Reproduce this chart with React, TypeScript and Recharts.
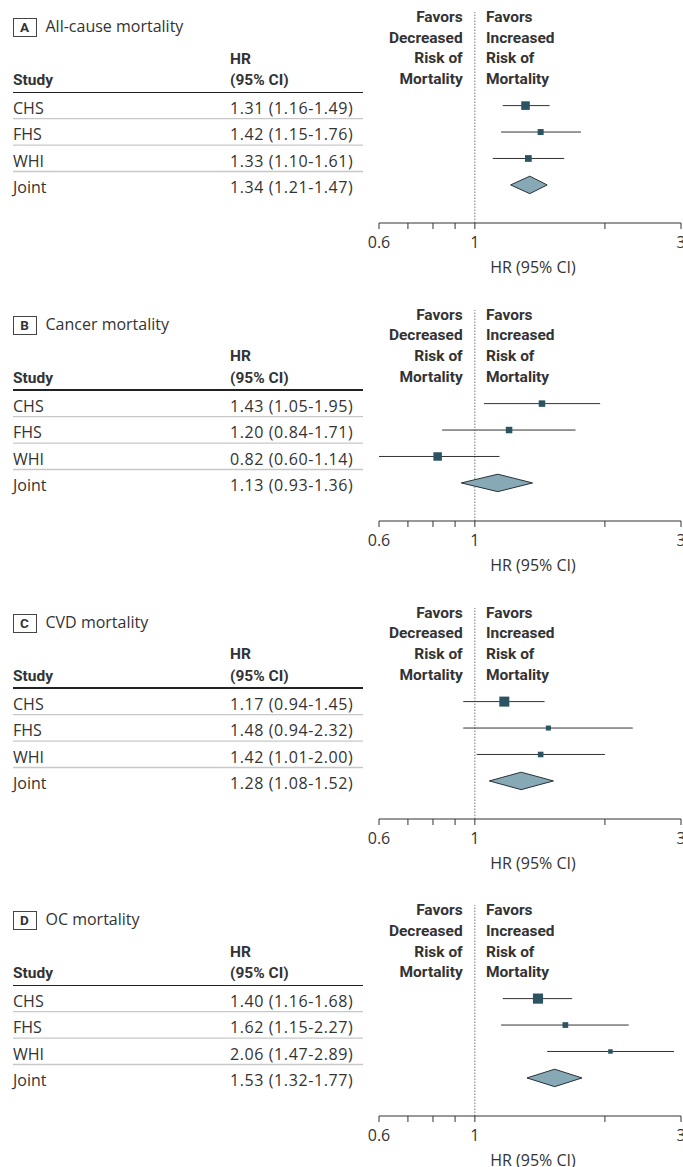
import React from 'react';
import { ComposedChart, Scatter, XAxis, YAxis, ErrorBar, ReferenceLine } from 'recharts';

const studies = ['CHS', 'FHS', 'WHI', 'Joint'];
const panelLetters = ['A', 'B', 'C', 'D'];
const panelTitles = ['All-cause mortality', 'Cancer mortality', 'CVD mortality', 'OC mortality'];

// HR, lower and upper 95% CI for CHS, FHS, WHI, Joint
const allCauseHR = [1.31, 1.42, 1.33, 1.34];
const allCauseLow = [1.16, 1.15, 1.1, 1.21];
const allCauseHigh = [1.49, 1.76, 1.61, 1.47];
const allCauseWeight = [47, 23, 29];

const cancerHR = [1.43, 1.2, 0.82, 1.13];
const cancerLow = [1.05, 0.84, 0.6, 0.93];
const cancerHigh = [1.95, 1.71, 1.14, 1.36];
const cancerWeight = [27, 27, 46];

const cvdHR = [1.17, 1.48, 1.42, 1.28];
const cvdLow = [0.94, 0.94, 1.01, 1.08];
const cvdHigh = [1.45, 2.32, 2.0, 1.52];
const cvdWeight = [64, 16, 20];

const ocHR = [1.4, 1.62, 2.06, 1.53];
const ocLow = [1.16, 1.15, 1.47, 1.32];
const ocHigh = [1.68, 2.27, 2.89, 1.77];
const ocWeight = [66, 21, 13];

const xTicks = [0.6, 0.7, 0.8, 0.9, 1, 2, 3];
const xTickLabels = [0.6, 1, 3];

const panels = [
  { hr: allCauseHR, low: allCauseLow, high: allCauseHigh, weight: allCauseWeight },
  { hr: cancerHR, low: cancerLow, high: cancerHigh, weight: cancerWeight },
  { hr: cvdHR, low: cvdLow, high: cvdHigh, weight: cvdWeight },
  { hr: ocHR, low: ocLow, high: ocHigh, weight: ocWeight },
];

const FONT = '"Open Sans", sans-serif';
const BOLD_FONT = 'Roboto, sans-serif';
const TEXT = '#333';
const SQUARE = '#2c5361';
const DIAMOND = '#86a9b5';
const PANEL_H = 297.75;
const DIAMOND_HALF = 0.33;

const fmt = (v: number) => v.toFixed(2);

const TableRow = (props: any) => {
  const { y, payload, panel } = props;
  const i = payload.value;
  const p = panels[panel];
  return (
    <g>
      <text x={13} y={y + 2.5} dy="0.36em" fontSize={16} fill={TEXT} fontFamily={FONT}>
        {studies[i]}
      </text>
      <text x={230} y={y + 2.5} dy="0.36em" fontSize={16} fill={TEXT} fontFamily={FONT} letterSpacing={0.6}>
        {`${fmt(p.hr[i])} (${fmt(p.low[i])}-${fmt(p.high[i])})`}
      </text>
      {i < 3 && <line x1={13} x2={363} y1={y + 13} y2={y + 13} stroke="#c8c8c8" strokeWidth={1.3} />}
    </g>
  );
};

const Panel = ({ index }: { index: number }) => {
  const p = panels[index];
  const points = p.weight.map((w, i) => ({
    x: p.hr[i],
    y: i,
    err: [p.hr[i] - p.low[i], p.high[i] - p.hr[i]],
    w,
  }));
  const diamond = [
    { x: p.low[3], y: 3 },
    { x: p.hr[3], y: 3 - DIAMOND_HALF },
    { x: p.high[3], y: 3 },
    { x: p.hr[3], y: 3 + DIAMOND_HALF },
  ];
  const bold = { fontFamily: BOLD_FONT, fontWeight: 700, fontSize: 15.5, color: TEXT } as const;
  return (
    <div style={{ position: 'absolute', left: 0, top: index * PANEL_H, width: 700, height: PANEL_H }}>
      <ComposedChart width={700} height={290} margin={{ top: 12, right: 19, bottom: 0, left: 0 }}>
        <XAxis
          dataKey="x"
          type="number"
          scale="log"
          domain={[0.6, 3]}
          allowDataOverflow
          ticks={xTicks}
          tickFormatter={(v: number) => (xTickLabels.includes(v) ? String(v) : '')}
          tickSize={6}
          tickMargin={8}
          height={67}
          stroke="#333"
          tick={{ fontSize: 16, fill: TEXT, fontFamily: FONT }}
          label={{ value: 'HR (95% CI)', position: 'insideBottom', offset: 17, dx: 3, fontSize: 16, fill: TEXT, fontFamily: FONT }}
        />
        <YAxis
          dataKey="y"
          type="number"
          domain={[-3.54, 4.44]}
          allowDataOverflow
          reversed
          ticks={[0, 1, 2, 3]}
          width={379}
          axisLine={false}
          tickLine={false}
          tick={(tp: any) => <TableRow {...tp} panel={index} />}
        />
        <ReferenceLine x={1} stroke="#777" strokeDasharray="1.5 1.5" />
        <Scatter
          data={points}
          isAnimationActive={false}
          fill={SQUARE}
          shape={(sp: any) => {
            const s = 1.25 * Math.sqrt(sp.payload.w);
            return <rect x={sp.cx - s / 2} y={sp.cy - s / 2} width={s} height={s} fill={SQUARE} />;
          }}
        >
          <ErrorBar dataKey="err" direction="x" width={0} stroke="#333" strokeWidth={1} isAnimationActive={false} />
        </Scatter>
        <Scatter
          data={diamond}
          isAnimationActive={false}
          line={{ fill: DIAMOND, stroke: '#263238', strokeWidth: 1 }}
          lineJointType="linearClosed"
          shape={() => <g />}
        />
      </ComposedChart>

      <div style={{ position: 'absolute', left: 12.5, top: 18, width: 22, height: 17, border: '1px solid #444', textAlign: 'center', lineHeight: '17px', fontFamily: BOLD_FONT, fontWeight: 700, fontSize: 13.5, color: TEXT }}>
        {panelLetters[index]}
      </div>
      <div style={{ position: 'absolute', left: 45.5, top: 15, lineHeight: '22px', fontFamily: FONT, fontSize: 16, color: TEXT }}>
        {panelTitles[index]}
      </div>
      <div style={{ ...bold, position: 'absolute', left: 230, top: 48.5, lineHeight: '21.5px' }}>
        HR
        <br />
        (95% CI)
      </div>
      <div style={{ ...bold, position: 'absolute', left: 13, top: 70, lineHeight: '21px' }}>Study</div>
      <div style={{ position: 'absolute', left: 13, top: 91.5, width: 350, height: 1.6, background: '#222' }} />
      <div style={{ ...bold, position: 'absolute', left: 362.7, width: 100, top: 7, lineHeight: '20.7px', textAlign: 'right' }}>
        Favors
        <br />
        Decreased
        <br />
        Risk of
        <br />
        Mortality
      </div>
      <div style={{ ...bold, position: 'absolute', left: 486, top: 7, lineHeight: '20.7px', whiteSpace: 'nowrap' }}>
        Favors
        <br />
        Increased
        <br />
        Risk of
        <br />
        Mortality
      </div>
    </div>
  );
};

export default function App() {
  return (
    <div style={{ position: 'absolute', left: 0, top: 0, width: 683, height: 1167, overflow: 'hidden', background: '#fff' }}>
      {panelLetters.map((_, i) => (
        <Panel key={i} index={i} />
      ))}
    </div>
  );
}
